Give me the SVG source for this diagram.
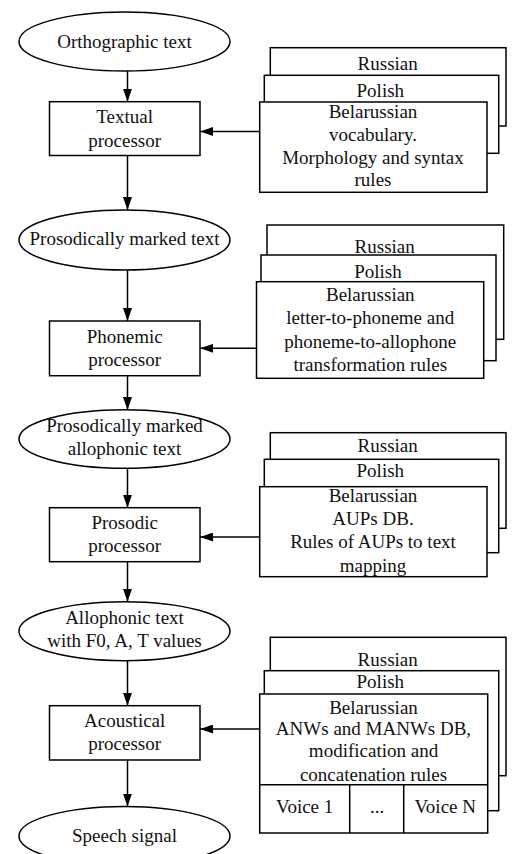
<svg xmlns="http://www.w3.org/2000/svg" width="514" height="854" viewBox="0 0 514 854">
<defs>
<style>
.s{fill:#fff;stroke:#000;stroke-width:1.5}
.l{fill:none;stroke:#000;stroke-width:1.5}
text{font-family:"Liberation Serif","Times New Roman",serif;font-size:19px;fill:#111;text-anchor:middle}
</style>
<marker id="ah" markerWidth="13" markerHeight="9" refX="13" refY="4.5" orient="auto" markerUnits="userSpaceOnUse">
<path d="M0,0 L13,4.5 L0,9 Z" fill="#000"/>
</marker>
</defs>
<rect width="514" height="854" fill="#fff"/>

<g id="connectors">
<line class="l" x1="127.5" y1="71" x2="127.5" y2="101.7" marker-end="url(#ah)"/>
<line class="l" x1="127.5" y1="155.5" x2="127.5" y2="210" marker-end="url(#ah)"/>
<line class="l" x1="127.5" y1="270" x2="127.5" y2="321" marker-end="url(#ah)"/>
<line class="l" x1="127.5" y1="375.7" x2="127.5" y2="410" marker-end="url(#ah)"/>
<line class="l" x1="127.5" y1="468.3" x2="127.5" y2="507.7" marker-end="url(#ah)"/>
<line class="l" x1="127.5" y1="561.7" x2="127.5" y2="601.7" marker-end="url(#ah)"/>
<line class="l" x1="127.5" y1="660.7" x2="127.5" y2="705.7" marker-end="url(#ah)"/>
<line class="l" x1="127.5" y1="760" x2="127.5" y2="806.5" marker-end="url(#ah)"/>
<line class="l" x1="260" y1="131.5" x2="200.2" y2="131.5" marker-end="url(#ah)"/>
<line class="l" x1="256.5" y1="348.3" x2="200.2" y2="348.3" marker-end="url(#ah)"/>
<line class="l" x1="260" y1="537" x2="200.2" y2="537" marker-end="url(#ah)"/>
<line class="l" x1="260" y1="729" x2="200.2" y2="729" marker-end="url(#ah)"/>
</g>

<g id="orthographic">
<ellipse class="s" cx="124.5" cy="41.5" rx="105.5" ry="29.5"/>
<text x="124.5" y="48">Orthographic text</text>
</g>
<g id="textual">
<rect class="s" x="49.5" y="101.7" width="150.5" height="53.8"/>
<text x="124.7" y="123">Textual</text>
<text x="124.7" y="146.5">processor</text>
</g>
<g id="prosodic-text">
<ellipse class="s" cx="124.5" cy="240" rx="105.5" ry="30"/>
<text x="124.5" y="245">Prosodically marked text</text>
</g>
<g id="phonemic">
<rect class="s" x="49.5" y="321" width="150.5" height="54.7"/>
<text x="124.7" y="343.3">Phonemic</text>
<text x="124.7" y="366">processor</text>
</g>
<g id="allophonic-text">
<ellipse class="s" cx="124.5" cy="439" rx="105.5" ry="29.3"/>
<text x="124.5" y="431.7">Prosodically marked</text>
<text x="124.5" y="455">allophonic text</text>
</g>
<g id="prosodic">
<rect class="s" x="49.5" y="507.7" width="150.5" height="54"/>
<text x="124.7" y="529">Prosodic</text>
<text x="124.7" y="551.7">processor</text>
</g>
<g id="f0-text">
<ellipse class="s" cx="124.5" cy="631.2" rx="105.5" ry="29.5"/>
<text x="124.5" y="624">Allophonic text</text>
<text x="124.5" y="646.7">with F0, A, T values</text>
</g>
<g id="acoustical">
<rect class="s" x="49.5" y="705.7" width="150.5" height="54.3"/>
<text x="124.7" y="727.3">Acoustical</text>
<text x="124.7" y="750">processor</text>
</g>
<g id="speech">
<ellipse class="s" cx="124.5" cy="836" rx="105.5" ry="29.5"/>
<text x="124.5" y="842.3">Speech signal</text>
</g>

<g id="db1">
<rect class="s" x="270.3" y="47.7" width="235.7" height="78.3"/>
<text x="387.7" y="70">Russian</text>
<rect class="s" x="264.3" y="75.3" width="234.4" height="78"/>
<text x="380.3" y="96.7">Polish</text>
<rect class="s" x="259.7" y="102" width="227.3" height="90.3"/>
<text x="373" y="118.3">Belarussian</text>
<text x="373" y="140.5">vocabulary.</text>
<text x="373" y="164">Morphology and syntax</text>
<text x="373" y="186">rules</text>
</g>
<g id="db2">
<rect class="s" x="267" y="225" width="236.7" height="114.3"/>
<text x="384.7" y="253.3">Russian</text>
<rect class="s" x="261" y="255" width="235" height="105.7"/>
<text x="378" y="278.3">Polish</text>
<rect class="s" x="256.5" y="281.7" width="227.2" height="96.6"/>
<text x="370.3" y="301">Belarussian</text>
<text x="370.3" y="324">letter-to-phoneme and</text>
<text x="370.3" y="347.7">phoneme-to-allophone</text>
<text x="370.3" y="370.7">transformation rules</text>
</g>
<g id="db3">
<rect class="s" x="270.3" y="432.7" width="235.7" height="95.6"/>
<text x="387.7" y="451.7">Russian</text>
<rect class="s" x="264.3" y="459.3" width="234.4" height="93.4"/>
<text x="380.3" y="477.3">Polish</text>
<rect class="s" x="259.7" y="486.7" width="227.3" height="90"/>
<text x="373" y="501.7">Belarussian</text>
<text x="373" y="525">AUPs DB.</text>
<text x="373" y="548.3">Rules of AUPs to text</text>
<text x="373" y="571.7">mapping</text>
</g>
<g id="db4">
<rect class="s" x="270.3" y="637.3" width="235.7" height="138.4"/>
<text x="387.7" y="665.7">Russian</text>
<rect class="s" x="264.3" y="670.7" width="234.4" height="140"/>
<text x="380.3" y="688">Polish</text>
<rect class="s" x="259.7" y="694" width="228" height="139"/>
<text x="373.5" y="714">Belarussian</text>
<text x="373.5" y="734.7">ANWs and MANWs DB,</text>
<text x="373.5" y="757.3">modification and</text>
<text x="373.5" y="780.7">concatenation rules</text>
<line class="l" x1="259.7" y1="784.7" x2="487.7" y2="784.7"/>
<line class="l" x1="349.7" y1="784.7" x2="349.7" y2="833"/>
<line class="l" x1="403.7" y1="784.7" x2="403.7" y2="833"/>
<text x="304.7" y="813.3">Voice 1</text>
<text x="377" y="813.3">...</text>
<text x="445.3" y="813.3">Voice N</text>
</g>
</svg>
